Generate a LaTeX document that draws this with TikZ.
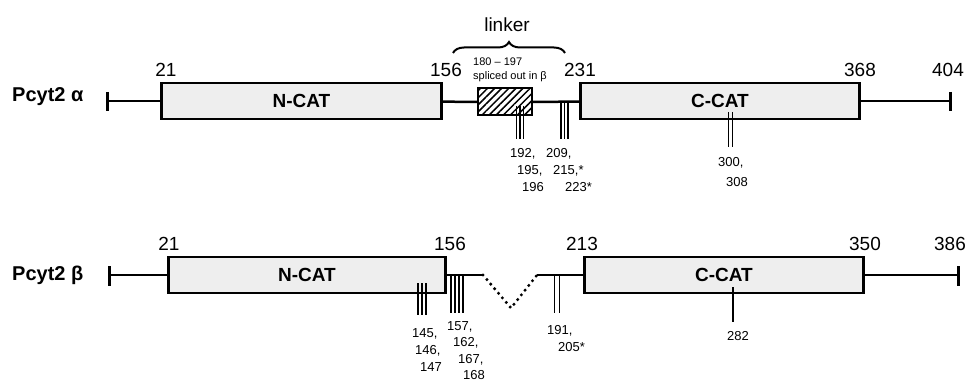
\documentclass[tikz,border=0pt]{standalone}
\usepackage{fontspec}
\setmainfont{Liberation Sans}
\usetikzlibrary{decorations.pathreplacing,patterns.meta}

\begin{document}
\begin{tikzpicture}[x=1pt, y=-1pt,
  dom/.style={draw, line width=2.8pt, fill=gray!13, minimum height=36pt, inner sep=0pt, font=\fontsize{19}{21}\selectfont\bfseries},
  chain/.style={line width=2.5pt},
  stopbar/.style={line width=3pt},
  site/.style={line width=1.4pt},
  num/.style={inner sep=0pt, font=\fontsize{19}{21}\selectfont},
  sitelab/.style={inner sep=0pt, anchor=north west, align=left, font=\fontsize{13}{17}\selectfont},
  isoname/.style={anchor=base west, inner sep=0pt, font=\fontsize{20}{22}\selectfont\bfseries}
]
\useasboundingbox (0,0) rectangle (970,385);

% Pcyt2 alpha
\node[isoname] (alpha) at (12,102) {Pcyt2 α};
\coordinate (aL) at (107,101);
\coordinate (aR) at (950,101);
\node[dom, minimum width=280pt] (ancat) at (301.5,101) {N-CAT};
\node[draw, line width=2pt, minimum width=54pt, minimum height=27pt, inner sep=0pt,
  pattern={Lines[angle=45,distance=5pt,line width=1.5pt]}] (hatch) at (505,102) {};
\node[dom, minimum width=279pt] (acat) at (720,101) {C-CAT};

\draw[chain] (aL) -- (ancat);
\draw[chain] (ancat) -- (hatch);
\draw[chain] (hatch) -- (acat);
\draw[chain] (acat) -- (aR);
\draw[stopbar] (107,92) -- (107,111);
\draw[stopbar] (950,92) -- (950,111);

\foreach \x in {516.5,520,523.5} \draw[site] (\x,106) -- (\x,139);
\foreach \x in {561,564.5,568} \draw[site] (\x,101) -- (\x,139);
\foreach \x in {728.5,732.5} \draw[site] (\x,112) -- (\x,147);

\node[num] (a21) at (166,70) {21};
\node[num] (a156) at (446,70) {156};
\node[num] (a231) at (580,70) {231};
\node[num] (a368) at (860,70) {368};
\node[num] (a404) at (948,70) {404};

\node[num] (linker) at (507,25) {linker};
\coordinate (lkL) at (453,53);
\coordinate (lkR) at (565,53);
\draw[line width=2pt, decorate, decoration={brace, amplitude=11pt}] (lkL) -- (lkR);
\node[inner sep=0pt, anchor=north west, align=left, font=\fontsize{11}{14}\selectfont] (splice) at (473,58) {180 – 197\\spliced out in β};

\node[sitelab] (s192) at (510,148) {192,\\\hspace{7pt}195,\\\hspace{12pt}196};
\node[sitelab] (s209) at (546,148) {209,\\\hspace{7pt}215,*\\\hspace{19pt}223*};
\node[sitelab] (s300) at (718,157) {300,\\[3pt]\hspace{8pt}308};

% Pcyt2 beta
\node[isoname] (beta) at (12,280) {Pcyt2 β};
\coordinate (bL) at (109,275);
\coordinate (bR) at (958,275);
\node[dom, minimum width=277pt] (bncat) at (307,275) {N-CAT};
\node[dom, minimum width=279pt] (bcat) at (724,275) {C-CAT};
\coordinate (dv1) at (483,275);
\coordinate (dvb) at (511,308);
\coordinate (dv2) at (537,275);

\draw[chain] (bL) -- (bncat);
\draw[chain] (bncat) -- (dv1);
\draw[line width=3.4pt, line cap=round, dash pattern=on 0pt off 6pt] (dv1) -- (dvb) -- (dv2);
\draw[chain] (dv2) -- (bcat);
\draw[chain] (bcat) -- (bR);
\draw[stopbar] (109,266) -- (109,286);
\draw[stopbar] (958,266) -- (958,286);

\foreach \x in {418,422,426} \draw[site] (\x,283) -- (\x,315);
\foreach \x in {451,455,459,463} \draw[site] (\x,275) -- (\x,313);
\foreach \x in {554.5,559.5} \draw[site] (\x,275) -- (\x,313);
\draw[site] (733,287) -- (733,322);

\node[num] (b21) at (169,244) {21};
\node[num] (b156) at (450,244) {156};
\node[num] (b213) at (582,244) {213};
\node[num] (b350) at (865,244) {350};
\node[num] (b386) at (950,244) {386};

\node[sitelab] (s145) at (412,328) {145,\\\hspace{3pt}146,\\\hspace{8pt}147};
\node[sitelab] (s157) at (447,321) {157,\\[-0.5pt]\hspace{6pt}162,\\[-0.5pt]\hspace{11pt}167,\\[-0.5pt]\hspace{16pt}168};
\node[sitelab] (s191) at (547,325) {191,\\\hspace{11pt}205*};
\node[sitelab] (s282) at (727,331) {282};
\end{tikzpicture}
\end{document}
